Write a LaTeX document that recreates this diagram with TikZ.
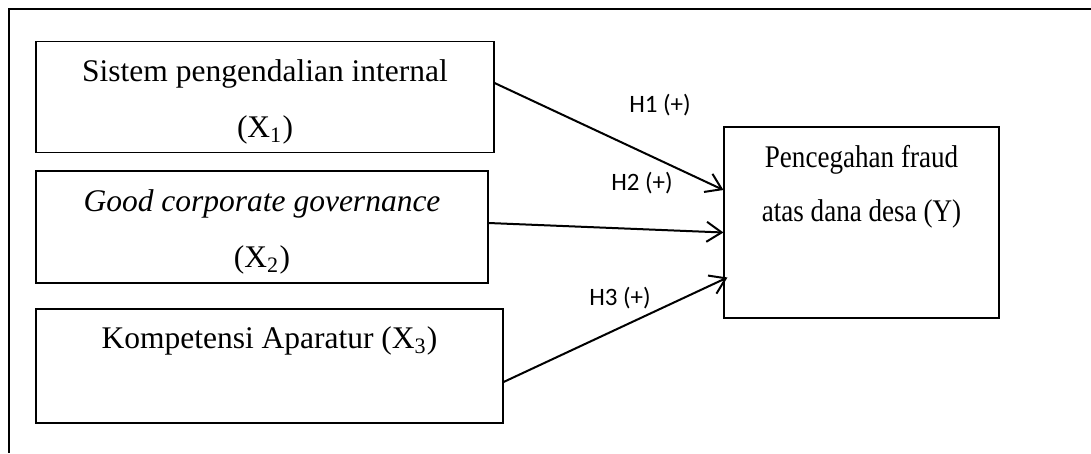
\documentclass[tikz,border=0pt]{standalone}
\usepackage{fontspec}
\setmainfont{Liberation Serif}
\newfontfamily\hfont{Carlito}
\newfontfamily\narrowfont[FakeStretch=0.86]{Liberation Serif}
\usetikzlibrary{arrows.meta}

\begin{document}
\begin{tikzpicture}[x=0.4pt,y=-0.4pt]
  \tikzstyle{var}=[draw,line width=0.45pt,align=center,font=\fontsize{12.6}{22.4}\selectfont]
  \tikzstyle{hyp}=[font=\hfont\fontsize{10}{12}\selectfont]
  \tikzstyle{link}=[line width=0.8pt,-{Straight Barb[length=6pt,width=8pt]}]
  \useasboundingbox (0,0) rectangle (1091,453) ;
  \draw [line width=0.7pt] (1091,9) -- (9,9) -- (9,453) ;
  \node [var,minimum width=183.2pt,minimum height=44pt,text height=35.2pt] (x1) at (265,97) {Sistem pengendalian internal\\(X\textsubscript{1})} ;
  \node [var,minimum width=180.8pt,minimum height=44.8pt,text height=35.2pt] (x2) at (262,227) {\textit{Good corporate governance}\\(X\textsubscript{2})} ;
  \node [var,minimum width=186.8pt,minimum height=45.6pt] (x3) at (269.5,366) {Kompetensi Aparatur (X\textsubscript{3})\\~} ;
  \node [var,minimum width=110pt,minimum height=76.4pt,font=\narrowfont\fontsize{12.6}{21.6}\selectfont] (y) at (861.5,222.5) {Pencegahan fraud\\atas dana desa (Y)\\[10pt]~} ;
  \node [hyp] (h1) at (660,105) {H1 (+)} ;
  \node [hyp] (h2) at (642,183) {H2 (+)} ;
  \node [hyp] (h3) at (620,298) {H3 (+)} ;
  \draw [link] ([yshift=5.6pt]x1.east) -- ([yshift=13pt]y.west) ;
  \draw [link] ([yshift=1.6pt]x2.east) -- ([yshift=-4pt]y.west) ;
  \draw [link] ([yshift=-6.4pt]x3.east) -- ([xshift=1.6pt,yshift=-22pt]y.west) ;
\end{tikzpicture}
\end{document}
